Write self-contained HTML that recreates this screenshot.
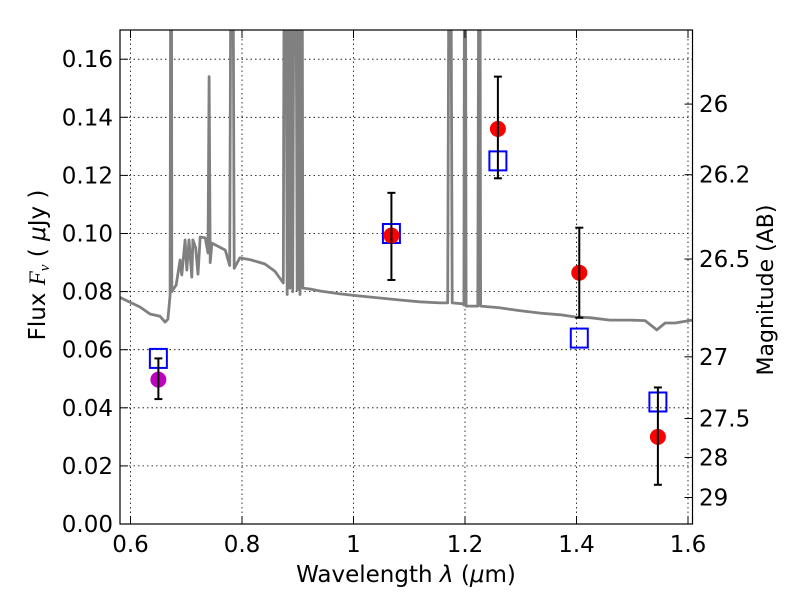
<!DOCTYPE html>
<html><head><meta charset="utf-8"><style>
body{margin:0;background:#fff}
svg text{font-family:"DejaVu Sans","Liberation Sans",sans-serif;fill:#000}
</style></head><body>
<svg id="chart" width="800" height="600" viewBox="0 0 800 600" xmlns="http://www.w3.org/2000/svg">
<defs><clipPath id="pc"><rect x="120" y="30" width="572.5" height="494"/></clipPath></defs>
<rect x="0" y="0" width="800" height="600" fill="#fff"/>
<g id="grid"></g>
<g id="spec" clip-path="url(#pc)"></g>
<g id="marks" clip-path="url(#pc)"></g>
<rect x="120" y="30" width="572.5" height="494" fill="none" stroke="#000" stroke-width="1.2"/>
<g id="axes"></g>
<text x="45" y="265" font-size="23" text-anchor="middle" transform="rotate(-90 45 265)">Flux  <tspan font-family="Liberation Serif" font-style="italic">F</tspan><tspan font-family="Liberation Serif" font-style="italic" font-size="15" dy="4">ν</tspan><tspan dy="-4">  (  </tspan><tspan font-style="italic">μ</tspan>Jy )</text>
<text x="773" y="290" font-size="22" text-anchor="middle" transform="rotate(-90 773 290)">Magnitude (AB)</text>
<text x="406" y="582" font-size="23" text-anchor="middle">Wavelength  <tspan font-style="italic">λ</tspan> (<tspan font-style="italic">μ</tspan>m)</text>
</svg>
<script>
const specWave=[0.581,0.617,0.635,0.653,0.662,0.667,0.671,0.673,0.674,0.682,0.689,0.692,0.698,0.701,0.705,0.710,0.712,0.717,0.721,0.725,0.734,0.739,0.741,0.743,0.746,0.753,0.770,0.778,0.782,0.786,0.796,0.814,0.829,0.841,0.859,0.874,0.877,0.881,0.884,0.886,0.889,0.891,0.895,0.899,0.902,0.904,0.907,0.909,0.922,0.940,0.976,1.011,1.047,1.083,1.119,1.155,1.169,1.173,1.177,1.197,1.198,1.200,1.202,1.223,1.226,1.228,1.260,1.296,1.335,1.371,1.397,1.424,1.460,1.496,1.523,1.544,1.559,1.577,1.607];
const specFlux=[0.078,0.0747,0.0723,0.0715,0.0695,0.0705,0.0788,0.30,0.0800,0.0823,0.0909,0.0857,0.0978,0.0874,0.0978,0.0850,0.0978,0.0950,0.0860,0.0988,0.0985,0.0933,0.154,0.0900,0.0967,0.0960,0.0943,0.0890,0.30,0.0880,0.0916,0.0910,0.0902,0.0895,0.0870,0.0830,0.30,0.0790,0.30,0.0812,0.30,0.0800,0.30,0.0805,0.30,0.0790,0.30,0.0812,0.0809,0.0802,0.0792,0.0785,0.0778,0.0771,0.0765,0.0761,0.0761,0.30,0.0761,0.0758,0.0754,0.30,0.0750,0.0750,0.30,0.0750,0.0745,0.0735,0.0726,0.0720,0.0713,0.0710,0.0702,0.0702,0.0700,0.0668,0.0692,0.0692,0.0702];
const obsWave=[0.650,1.068,1.259,1.405,1.546];
const obsFlux=[0.0497,0.0993,0.136,0.0865,0.030];
const errLow=[0.043,0.084,0.119,0.071,0.0135];
const errHigh=[0.057,0.114,0.154,0.102,0.047];
const obsColor=["#bf00bf","#ff0000","#ff0000","#ff0000","#ff0000"];
const modelWave=[0.650,1.068,1.259,1.405,1.546];
const modelFlux=[0.057,0.100,0.125,0.064,0.042];
const xTicks=[0.6,0.8,1.0,1.2,1.4,1.6];
const xTickLabels=["0.6","0.8","1","1.2","1.4","1.6"];
const yTicks=[0,0.02,0.04,0.06,0.08,0.10,0.12,0.14,0.16];
const yTickLabels=["0.00","0.02","0.04","0.06","0.08","0.10","0.12","0.14","0.16"];
const magTicks=[26,26.2,26.5,27,27.5,28,29];
const magTickLabels=["26","26.2","26.5","27","27.5","28","29"];

const NS="http://www.w3.org/2000/svg";
const X=v=>130.5+(v-0.6)*111.5/0.2;
const Y=v=>524-v*2905;
const magFlux=m=>Math.pow(10,-0.4*(m-23.9));
function mk(tag,attrs,parent){const e=document.createElementNS(NS,tag);for(const k in attrs)e.setAttribute(k,attrs[k]);document.getElementById(parent).appendChild(e);return e;}

xTicks.forEach((t,i)=>{
  const g=mk('line',{x1:X(t),x2:X(t),y1:30,y2:524,stroke:'#000','stroke-width':0.8,'stroke-dasharray':'1.5,3'},'grid');
  
  
  const tb=mk('line',{x1:X(t),x2:X(t),y1:524,y2:516,stroke:'#000','stroke-width':1},'axes');
  
  
  const tt=mk('line',{x1:X(t),x2:X(t),y1:30,y2:38,stroke:'#000','stroke-width':1},'axes');
  
  
  const l=mk('text',{x:X(t),y:552,'font-size':23,'text-anchor':'middle'},'axes');
  l.textContent=xTickLabels[i];
  
  
});
yTicks.forEach((t,i)=>{
  const g=mk('line',{x1:120,x2:692.5,y1:Y(t),y2:Y(t),stroke:'#000','stroke-width':0.8,'stroke-dasharray':'1.5,3'},'grid');
  
  
  const tk=mk('line',{x1:120,x2:128,y1:Y(t),y2:Y(t),stroke:'#000','stroke-width':1},'axes');
  
  
  const l=mk('text',{x:113,y:Y(t)+8,'font-size':23,'text-anchor':'end'},'axes');
  l.textContent=yTickLabels[i];
  
  
});
magTicks.forEach((m,i)=>{
  const y=Y(magFlux(m));
  const tk=mk('line',{x1:684.5,x2:692.5,y1:y,y2:y,stroke:'#000','stroke-width':1},'axes');
  
  
  const l=mk('text',{x:699,y:y+8,'font-size':23},'axes');
  l.textContent=magTickLabels[i];
  
  
});
const pts=specWave.map((w,i)=>X(w).toFixed(1)+','+Y(specFlux[i]).toFixed(1)).join(' ');
const sp=mk('polyline',{points:pts,fill:'none',stroke:'#808080','stroke-width':2.8,'stroke-linejoin':'round'},'spec');



modelWave.forEach((w,i)=>{
  const s=mk('rect',{x:X(w)-8.5,y:Y(modelFlux[i])-9.5,width:17,height:19,fill:'none',stroke:'#0000ff','stroke-width':2},'marks');
  
  
});
obsWave.forEach((w,i)=>{
  const x=X(w);
  const c=mk('circle',{cx:x,cy:Y(obsFlux[i]),r:8,fill:obsColor[i]},'marks');
  
  
  const e=mk('line',{x1:x,x2:x,y1:Y(errLow[i]),y2:Y(errHigh[i]),stroke:'#000','stroke-width':2},'marks');
  
  
  [errLow[i],errHigh[i]].forEach(v=>{
    const cap=mk('line',{x1:x-4,x2:x+4,y1:Y(v),y2:Y(v),stroke:'#000','stroke-width':2},'marks');
    
    
  });
});
</script>
</body></html>
